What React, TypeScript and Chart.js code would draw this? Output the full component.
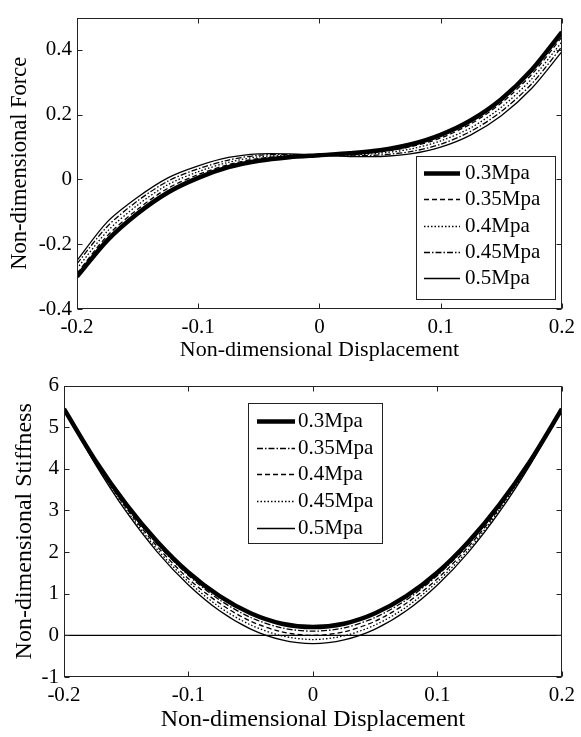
import React, { useEffect, useRef } from "react";
import { Chart, registerables } from "chart.js";

Chart.register(...registerables);

// ---------- data ----------
const displacement = [
  -0.2, -0.175, -0.15, -0.125, -0.1, -0.075, -0.05, -0.025, 0,
  0.025, 0.05, 0.075, 0.1, 0.125, 0.15, 0.175, 0.2,
];

const forceLabels = ["0.3Mpa", "0.35Mpa", "0.4Mpa", "0.45Mpa", "0.5Mpa"];
const force03 = [-0.3, -0.188, -0.105, -0.04, 0.005, 0.038, 0.058, 0.069, 0.075, 0.081, 0.09, 0.108, 0.138, 0.183, 0.248, 0.338, 0.455];
const force035 = [-0.29, -0.174, -0.092, -0.027, 0.015, 0.046, 0.065, 0.072, 0.075, 0.078, 0.085, 0.101, 0.128, 0.172, 0.236, 0.324, 0.44];
const force04 = [-0.275, -0.16, -0.079, -0.016, 0.024, 0.053, 0.07, 0.074, 0.075, 0.076, 0.081, 0.094, 0.119, 0.16, 0.223, 0.31, 0.425];
const force045 = [-0.26, -0.145, -0.066, -0.005, 0.033, 0.06, 0.075, 0.077, 0.075, 0.073, 0.076, 0.086, 0.109, 0.149, 0.21, 0.295, 0.41];
const force05 = [-0.25, -0.131, -0.055, 0.005, 0.042, 0.068, 0.079, 0.079, 0.075, 0.071, 0.071, 0.079, 0.1, 0.138, 0.197, 0.281, 0.395];

const stiffnessLabels = ["0.3Mpa", "0.35Mpa", "0.4Mpa", "0.45Mpa", "0.5Mpa"];
const stiffness03 = [5.44, 4.21, 3.15, 2.25, 1.51, 0.94, 0.53, 0.28, 0.2, 0.28, 0.53, 0.94, 1.51, 2.25, 3.15, 4.21, 5.44];
const stiffness035 = [5.44, 4.19, 3.1, 2.19, 1.44, 0.85, 0.43, 0.18, 0.1, 0.18, 0.43, 0.85, 1.44, 2.19, 3.1, 4.19, 5.44];
const stiffness04 = [5.44, 4.17, 3.06, 2.13, 1.36, 0.77, 0.34, 0.085, 0, 0.085, 0.34, 0.77, 1.36, 2.13, 3.06, 4.17, 5.44];
const stiffness045 = [5.44, 4.14, 3.02, 2.06, 1.29, 0.68, 0.25, -0.01, -0.1, -0.01, 0.25, 0.68, 1.29, 2.06, 3.02, 4.14, 5.44];
const stiffness05 = [5.44, 4.12, 2.97, 2.0, 1.21, 0.59, 0.15, -0.11, -0.2, -0.11, 0.15, 0.59, 1.21, 2.0, 2.97, 4.12, 5.44];
const stiffnessReference = 0;

const xTicks = [-0.2, -0.1, 0, 0.1, 0.2];
const forceTicks = [-0.4, -0.2, 0, 0.2, 0.4];
const stiffnessTicks = [-1, 0, 1, 2, 3, 4, 5, 6];

// ---------- styles ----------
const FONT = '"Liberation Serif", "Times New Roman", serif';
const thick = { borderWidth: 4.5, borderDash: [] as number[] };
const dashed = { borderWidth: 1.3, borderDash: [5, 3] };
const dotted = { borderWidth: 1.3, borderDash: [1.5, 2] };
const dashDot = { borderWidth: 1.3, borderDash: [6, 2, 1.5, 2] };
const solid = { borderWidth: 1.3, borderDash: [] as number[] };

const forceStyles = [thick, dashed, dotted, dashDot, solid];
const stiffnessStyles = [thick, dashDot, dashed, dotted, solid];

const fmt = (v: number) => {
  const r = Math.round(v * 10) / 10;
  return r === 0 ? "0" : String(r);
};

const toPoints = (ys: number[]) => displacement.map((x, i) => ({ x, y: ys[i] }));

// ---------- plugins ----------
const frame = {
  id: "frame",
  afterDatasetsDraw(chart: any) {
    const { ctx, chartArea, scales } = chart;
    const l = Math.round(chartArea.left) + 0.5;
    const r = Math.round(chartArea.right) - 0.5;
    const t = Math.round(chartArea.top) + 0.5;
    const b = Math.round(chartArea.bottom) - 0.5;
    ctx.save();
    ctx.setLineDash([]);
    ctx.strokeStyle = "#222";
    ctx.lineWidth = 1;
    ctx.strokeRect(l, t, r - l, b - t);
    const len = 5;
    ctx.beginPath();
    scales.x.ticks.forEach((tk: any) => {
      const px = Math.round(scales.x.getPixelForValue(tk.value)) + 0.5;
      ctx.moveTo(px, b);
      ctx.lineTo(px, b - len);
      ctx.moveTo(px, t);
      ctx.lineTo(px, t + len);
    });
    scales.y.ticks.forEach((tk: any) => {
      const py = Math.round(scales.y.getPixelForValue(tk.value)) + 0.5;
      ctx.moveTo(l, py);
      ctx.lineTo(l + len, py);
      ctx.moveTo(r, py);
      ctx.lineTo(r - len, py);
    });
    ctx.stroke();
    ctx.restore();
  },
};

const boxLegend = {
  id: "boxLegend",
  afterDraw(chart: any, _args: any, opts: any) {
    const { ctx, chartArea } = chart;
    const items = chart.data.datasets.filter((d: any) => !d.skipLegend);
    const w = opts.width;
    const h = opts.height;
    const x0 = Math.round(
      opts.anchor === "right" ? chartArea.right - opts.offsetX - w : chartArea.left + opts.offsetX
    );
    const y0 = Math.round(
      opts.anchor === "right" ? chartArea.bottom - opts.offsetY - h : chartArea.top + opts.offsetY
    );
    ctx.save();
    ctx.fillStyle = "#fff";
    ctx.fillRect(x0, y0, w, h);
    ctx.setLineDash([]);
    ctx.strokeStyle = "#222";
    ctx.lineWidth = 1;
    ctx.strokeRect(x0 + 0.5, y0 + 0.5, w, h);
    items.forEach((d: any, i: number) => {
      const cy = Math.round(y0 + opts.firstRow + i * opts.rowGap) + 0.5;
      ctx.strokeStyle = "#000";
      ctx.lineWidth = d.borderWidth;
      ctx.setLineDash(d.borderDash || []);
      ctx.beginPath();
      ctx.moveTo(x0 + opts.sampleStart, cy);
      ctx.lineTo(x0 + opts.sampleStart + opts.sampleLen, cy);
      ctx.stroke();
      ctx.setLineDash([]);
      ctx.fillStyle = "#000";
      ctx.font = `21px ${FONT}`;
      ctx.textBaseline = "middle";
      ctx.textAlign = "left";
      ctx.fillText(d.label, x0 + opts.textStart, cy);
    });
    ctx.restore();
  },
};

function makeScale(
  ticksArr: number[],
  min: number,
  max: number,
  title: string,
  horizontal: boolean,
  size: number,
  titlePad: any,
  tickPad: number,
  titleSize: number
) {
  return {
    type: "linear",
    min,
    max,
    afterBuildTicks: (s: any) => {
      s.ticks = ticksArr.map((v) => ({ value: v }));
    },
    afterFit: (s: any) => {
      if (horizontal) s.height = size;
      else s.width = size;
    },
    grid: { display: false, drawTicks: false, tickLength: 0 },
    border: { display: false },
    ticks: {
      autoSkip: false,
      maxRotation: 0,
      padding: tickPad,
      color: "#000",
      font: { family: FONT, size: 21 },
      callback: (v: any) => fmt(Number(v)),
    },
    title: {
      display: true,
      text: title,
      color: "#000",
      font: { family: FONT, size: titleSize },
      padding: titlePad,
    },
  };
}

function buildDatasets(labels: string[], series: number[][], styles: any[]) {
  return series.map((ys, i) => ({
    label: labels[i],
    data: toPoints(ys),
    borderColor: "#000",
    backgroundColor: "#000",
    borderWidth: styles[i].borderWidth,
    borderDash: styles[i].borderDash,
    pointRadius: 0,
    tension: 0.3,
    fill: false,
  }));
}

export default function App() {
  const topRef = useRef<HTMLCanvasElement>(null);
  const botRef = useRef<HTMLCanvasElement>(null);

  useEffect(() => {
    const forceChart = new Chart(topRef.current as HTMLCanvasElement, {
      type: "line",
      data: {
        datasets: buildDatasets(
          forceLabels,
          [force03, force035, force04, force045, force05],
          forceStyles
        ) as any,
      },
      options: {
        animation: false,
        responsive: false,
        parsing: false as any,
        layout: { padding: { top: 10, right: 16, left: 0, bottom: 0 } },
        scales: {
          x: makeScale(xTicks, -0.2, 0.2, "Non-dimensional Displacement", true, 59, { top: 0, bottom: 5 }, 6, 22) as any,
          y: makeScale(forceTicks, -0.4, 0.5, "Non-dimensional Force", false, 77, { top: 7, bottom: 0 }, 5, 22.5) as any,
        },
        plugins: {
          legend: { display: false },
          tooltip: { enabled: false },
          boxLegend: {
            anchor: "right",
            offsetX: 7,
            offsetY: 10,
            width: 139,
            height: 143,
            firstRow: 17,
            rowGap: 26.3,
            sampleStart: 8,
            sampleLen: 36,
            textStart: 49,
          },
        } as any,
      },
      plugins: [frame, boxLegend],
    });

    const stiffDatasets: any[] = buildDatasets(
      stiffnessLabels,
      [stiffness03, stiffness035, stiffness04, stiffness045, stiffness05],
      stiffnessStyles
    );
    stiffDatasets.push({
      label: "reference",
      skipLegend: true,
      data: [
        { x: displacement[0], y: stiffnessReference },
        { x: displacement[displacement.length - 1], y: stiffnessReference },
      ],
      borderColor: "#000",
      borderWidth: 1.3,
      pointRadius: 0,
      fill: false,
    });

    const stiffChart = new Chart(botRef.current as HTMLCanvasElement, {
      type: "line",
      data: { datasets: stiffDatasets },
      options: {
        animation: false,
        responsive: false,
        parsing: false as any,
        layout: { padding: { top: 17, right: 18, left: 0, bottom: 0 } },
        scales: {
          x: makeScale(xTicks, -0.2, 0.2, "Non-dimensional Displacement", true, 60, { top: 0, bottom: 3 }, 6, 24) as any,
          y: makeScale(stiffnessTicks, -1, 6, "Non-dimensional Stiffness", false, 64, { top: 10, bottom: 0 }, 5, 24) as any,
        },
        plugins: {
          legend: { display: false },
          tooltip: { enabled: false },
          boxLegend: {
            anchor: "left",
            offsetX: 184,
            offsetY: 17,
            width: 134,
            height: 140,
            firstRow: 18,
            rowGap: 26.7,
            sampleStart: 9,
            sampleLen: 38,
            textStart: 50,
          },
        } as any,
      },
      plugins: [frame, boxLegend],
    });

    return () => {
      forceChart.destroy();
      stiffChart.destroy();
    };
  }, []);

  return (
    <div
      style={{
        position: "absolute",
        left: 0,
        top: 0,
        width: 581,
        height: 737,
        background: "#fff",
      }}
    >
      <canvas
        ref={topRef}
        width={581}
        height={368}
        style={{ position: "absolute", left: 0, top: 0, width: 581, height: 368 }}
      />
      <canvas
        ref={botRef}
        width={581}
        height={369}
        style={{ position: "absolute", left: 0, top: 368, width: 581, height: 369 }}
      />
    </div>
  );
}
